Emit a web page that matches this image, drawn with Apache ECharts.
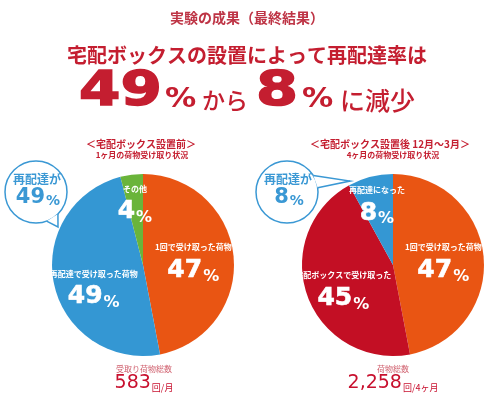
<!DOCTYPE html>
<html><head><meta charset="utf-8">
<script src="https://cdn.jsdelivr.net/npm/echarts@6/dist/echarts.min.js"></script>
<style>html,body{margin:0;padding:0;background:#fff}#c{width:490px;height:398px}</style>
</head><body><div id="c"></div>
<script>
// ---- data ----
const catsBefore = ['1回で受け取った荷物', '再配達で受け取った荷物', 'その他'];
const valsBefore = [47, 49, 4];
const catsAfter = ['1回で受け取った荷物', '宅配ボックスで受け取った', '再配達になった'];
const valsAfter = [47, 45, 8];
const redeliveryBefore = 49;
const redeliveryAfter = 8;
const totalBefore = '583';
const totalBeforeUnit = '回/月';
const totalAfter = '2,258';
const totalAfterUnit = '回/4ヶ月';

// ---- styles ----
const RED = '#C41E30';
const BLUE = '#3A98D4';
const colorsBefore = ['#E95513', '#3497D3', '#6AB43A'];
const colorsAfter = ['#E95513', '#C30F24', '#3497D3'];
const offBefore = [[2, 3], [-2, 14], [-2, -12]];
const offAfter = [[2, 3], [-4, 10], [-4, -12]];
const JP = '"Noto Sans CJK JP", sans-serif';
const DV = '"DejaVu Sans", sans-serif';

const chart = echarts.init(document.getElementById('c'), null, {renderer: 'canvas'});

function pieSeries(cats, vals, colors, offs, cx) {
  return {
    type: 'pie', silent: true, animation: false,
    center: [cx, 265], radius: 91, startAngle: 90, clockwise: true,
    data: cats.map((n, i) => ({name: n, value: vals[i], itemStyle: {color: colors[i]}})),
    label: {
      show: true, position: 'inside',
      formatter: '{n|{b}}\n{v|{c}}{p|%}',
      rich: {
        n: {fontFamily: JP, fontWeight: 'bold', fontSize: 8, color: '#fff', lineHeight: 14, align: 'center'},
        v: {fontFamily: DV, fontWeight: 'bold', fontSize: 25, color: '#fff', lineHeight: 32, textBorderColor: '#fff', textBorderWidth: 0.6},
        p: {fontFamily: DV, fontWeight: 'bold', fontSize: 16, color: '#fff', lineHeight: 32, verticalAlign: 'bottom', padding: [0, 0, 2, 1]}
      }
    },
    labelLine: {show: false},
    labelLayout: function (p) { return {dx: offs[p.dataIndex][0], dy: offs[p.dataIndex][1]}; }
  };
}

function txt(text, x, y, size, color, opts) {
  opts = opts || {};
  const st = {
    text: text, fill: color, align: opts.align || 'center', verticalAlign: 'middle',
    font: (opts.weight || 'bold') + ' ' + size + 'px ' + (opts.family || JP)
  };
  if (opts.stroke) { st.stroke = color; st.lineWidth = opts.stroke; }
  return {type: 'text', x: x, y: y, silent: true, z: 10, scaleX: opts.scaleX || 1, style: st};
}

function bubble(cx, cy, r, a1, a2, tip, label, pct) {
  const d = Math.PI / 180;
  const A = [cx + r * Math.cos(a1 * d), cy + r * Math.sin(a1 * d)];
  const B = [cx + r * Math.cos(a2 * d), cy + r * Math.sin(a2 * d)];
  return [
    {type: 'circle', silent: true, z: 5, shape: {cx: cx, cy: cy, r: r}, style: {fill: '#fff', stroke: BLUE, lineWidth: 1.5}},
    {type: 'polygon', silent: true, z: 6, shape: {points: [A, tip, B]}, style: {fill: '#fff', stroke: null}},
    {type: 'polyline', silent: true, z: 7, shape: {points: [A, tip, B]}, style: {stroke: BLUE, lineWidth: 1.5, fill: null}},
    txt(label, cx + 1, cy - 13, 12, BLUE),
    {
      type: 'text', x: cx + 2, y: cy + 6, silent: true, z: 10,
      style: {
        text: '{v|' + pct + '}{p|%}', align: 'center', verticalAlign: 'middle',
        rich: {
          v: {fontFamily: DV, fontWeight: 'bold', fontSize: 21, fill: BLUE, lineHeight: 26},
          p: {fontFamily: DV, fontWeight: 'bold', fontSize: 14, fill: BLUE, lineHeight: 26, verticalAlign: 'bottom', padding: [0, 0, 3, 1]}
        }
      }
    }
  ];
}

function total(x, num, unit, label) {
  return [
    txt(label, x, 369, 8, '#D0606E', {weight: 'normal'}),
    {
      type: 'text', x: x, y: 383, silent: true, z: 10,
      style: {
        text: '{v|' + num + '}{u|' + unit + '}', align: 'center', verticalAlign: 'middle',
        rich: {
          v: {fontFamily: DV, fontWeight: 'normal', fontSize: 19, fill: '#C8102E', lineHeight: 24},
          u: {fontFamily: JP, fontWeight: 'normal', fontSize: 9, fill: '#C8102E', lineHeight: 24, verticalAlign: 'bottom', padding: [0, 0, 3, 1]}
        }
      }
    }
  ];
}

const graphics = [
  txt('実験の成果（最終結果）', 247, 18, 14, '#BE3445'),
  txt('宅配ボックスの設置によって再配達率は', 247, 55, 20, RED),
  txt(String(redeliveryBefore), 79, 93, 48, RED, {align: 'left', family: DV, scaleX: 1.24, stroke: 1.5}),
  txt('%', 165, 100, 26, RED, {align: 'left', family: DV, scaleX: 1.2}),
  txt('から', 202, 100, 23, RED, {align: 'left', weight: '500'}),
  txt(String(redeliveryAfter), 256, 93, 48, RED, {align: 'left', family: DV, scaleX: 1.26, stroke: 1.5}),
  txt('%', 302, 100, 26, RED, {align: 'left', family: DV, scaleX: 1.2}),
  txt('に減少', 340, 100, 25, RED, {align: 'left', weight: '500'}),
  txt('＜宅配ボックス設置前＞', 141, 144, 10, RED),
  txt('1ヶ月の荷物受け取り状況', 142, 155, 8, RED),
  txt('＜宅配ボックス設置後 12月～3月＞', 390, 144, 10, RED),
  txt('4ヶ月の荷物受け取り状況', 393, 155, 8, RED)
].concat(
  bubble(36, 192, 31, 45, 70, [58, 227], '再配達が', redeliveryBefore),
  bubble(287, 192, 31, -32, -8, [350, 181], '再配達が', redeliveryAfter),
  total(144, totalBefore, totalBeforeUnit, '受取り荷物総数'),
  total(393, totalAfter, totalAfterUnit, '荷物総数')
);

chart.setOption({
  backgroundColor: '#fff',
  animation: false,
  series: [
    pieSeries(catsBefore, valsBefore, colorsBefore, offBefore, 143),
    pieSeries(catsAfter, valsAfter, colorsAfter, offAfter, 393)
  ],
  graphic: {elements: graphics}
});
</script>
</body></html>
